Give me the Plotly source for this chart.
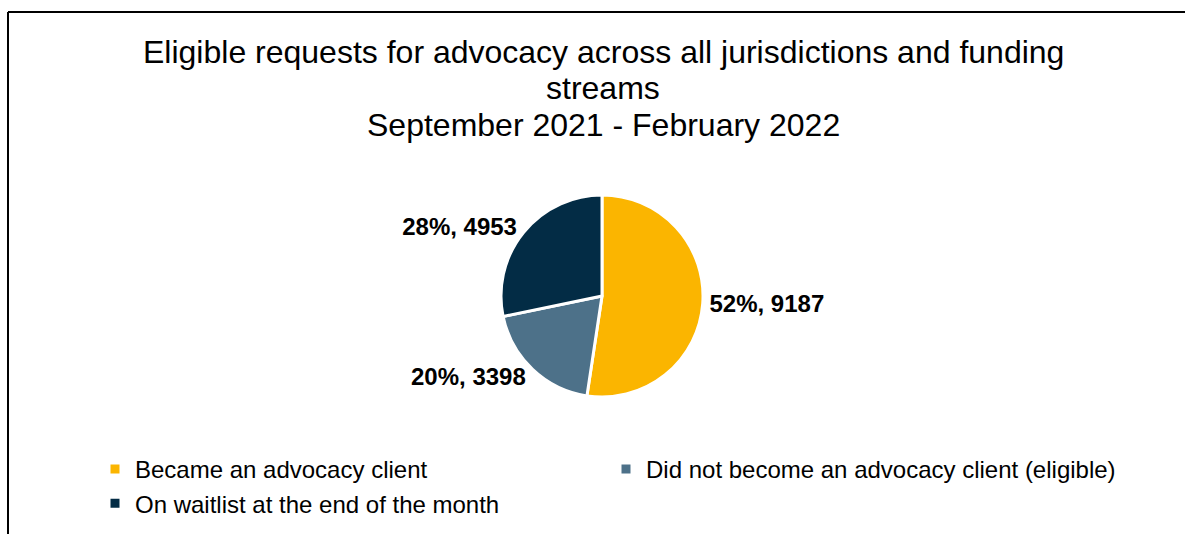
import plotly.graph_objects as go

categories = ["Became an advocacy client",
              "Did not become an advocacy client (eligible)",
              "On waitlist at the end of the month"]
values = [9187, 3398, 4953]
pct_labels = ["52%", "20%", "28%"]
colors = ["#FBB500", "#4D7189", "#032C45"]
title_lines = ["Eligible requests for advocacy across all jurisdictions and funding",
               "streams",
               "September 2021 - February 2022"]

W, H = 1185, 534
def px(x): return x / W
def py(y): return 1 - y / H

cx, cy, r = 602, 296, 101
FONT = "Liberation Sans, Arial"

fig = go.Figure(go.Pie(
    labels=categories,
    values=values,
    text=[f"{p}, {v}" for p, v in zip(pct_labels, values)],
    textinfo="text",
    textposition="outside",
    textfont=dict(family=FONT, size=24, color="black", weight="bold"),
    marker=dict(colors=colors, line=dict(color="white", width=3)),
    sort=False,
    direction="clockwise",
    rotation=0,
    domain=dict(x=[px(cx - r), px(cx + r)], y=[py(cy + r), py(cy - r)]),
    hoverinfo="label+value",
))

title_y = [52, 88, 125]
annotations = [
    dict(text=t, x=px(603), y=py(yy), xref="paper", yref="paper",
         xanchor="center", yanchor="middle", showarrow=False,
         font=dict(family=FONT, size=32, color="black"))
    for t, yy in zip(title_lines, title_y)
]

fig.update_layout(
    width=W, height=H,
    margin=dict(l=0, r=0, t=0, b=0, autoexpand=False),
    paper_bgcolor="white",
    font=dict(family=FONT, color="black"),
    annotations=annotations,
    legend=dict(
        orientation="h",
        x=px(95), xanchor="left",
        y=py(447), yanchor="top",
        entrywidth=466, entrywidthmode="pixels",
        font=dict(family=FONT, size=24, color="black"),
        itemclick=False,
    ),
    shapes=[
        dict(type="line", xref="paper", yref="paper", x0=px(8), x1=1.0, y0=py(12), y1=py(12),
             line=dict(color="black", width=2)),
        dict(type="line", xref="paper", yref="paper", x0=px(8), x1=px(8), y0=py(12), y1=0,
             line=dict(color="black", width=2)),
    ],
)

fig.write_html("out.html")
